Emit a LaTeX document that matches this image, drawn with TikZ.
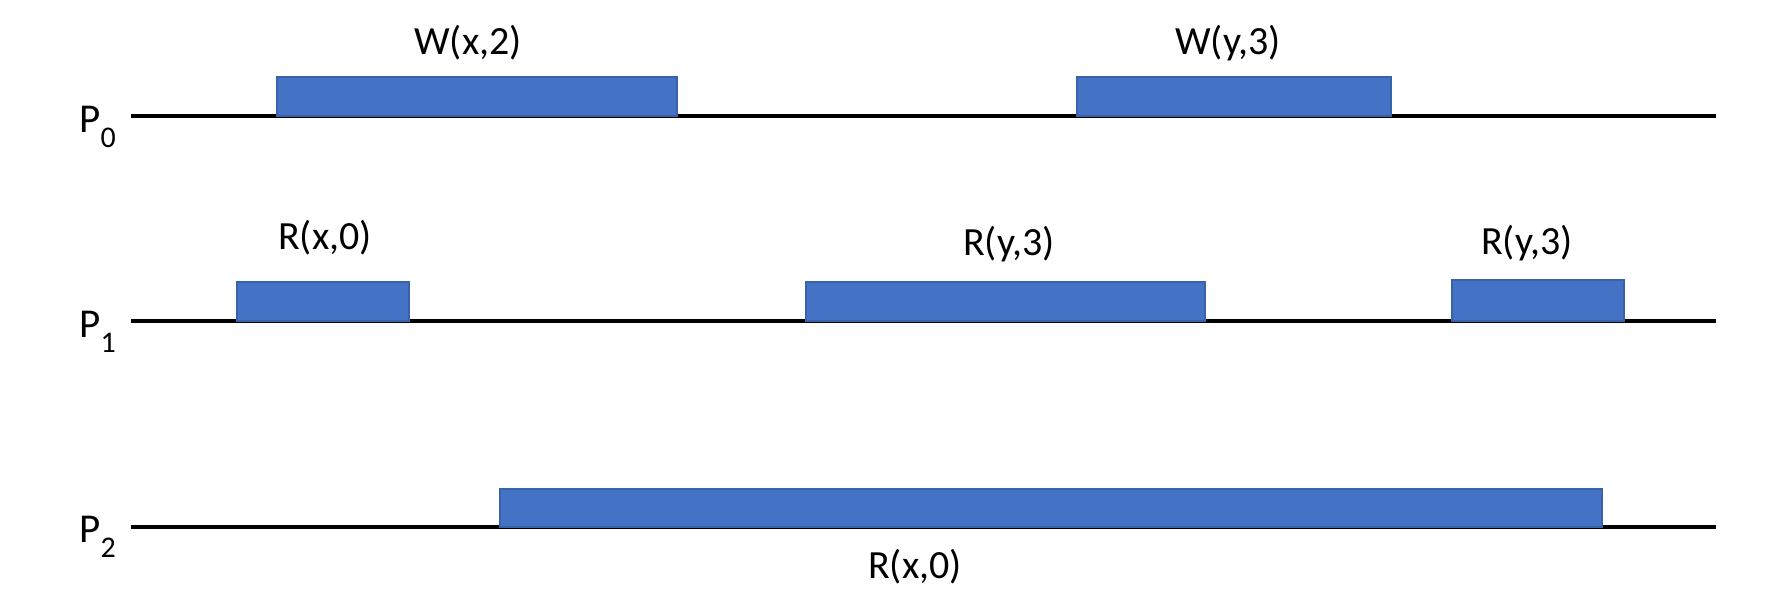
\documentclass[tikz,border=0pt]{standalone}
\usepackage{fontspec}
\setmainfont{Carlito}
\definecolor{opblue}{HTML}{4472C4}
\definecolor{opedge}{HTML}{3A62A8}
\newcommand{\procname}[1]{P\raisebox{-15pt}{\fontsize{30}{30}\selectfont #1}}
\begin{document}
\begin{tikzpicture}[x=1pt,y=-1pt,
  timeline/.style={line width=4.5pt},
  opbox/.style={draw=opedge,line width=1.2pt,fill=opblue},
  oplabel/.style={font=\fontsize{40}{48}\selectfont,inner sep=0pt},
  proclabel/.style={font=\fontsize{41}{48}\selectfont,inner sep=0pt,anchor=base east}]
\useasboundingbox (0,0) rectangle (1778,608);
% timelines
\coordinate (s0) at (131,116); \coordinate (e0) at (1716,116);
\coordinate (s1) at (131,321); \coordinate (e1) at (1716,321);
\coordinate (s2) at (131,527); \coordinate (e2) at (1716,527);
\draw[timeline] (s0) -- (e0);
\draw[timeline] (s1) -- (e1);
\draw[timeline] (s2) -- (e2);
% process labels
\node[proclabel] (p0) at (116,132) {\procname{0}};
\node[proclabel] (p1) at (116,337) {\procname{1}};
\node[proclabel] (p2) at (116,542) {\procname{2}};
% operations
\draw[opbox] (277,77) rectangle (677,116);
\draw[opbox] (1077,77) rectangle (1391,116);
\draw[opbox] (237,282) rectangle (409,321);
\draw[opbox] (806,282) rectangle (1205,321);
\draw[opbox] (1452,280) rectangle (1624,321);
\draw[opbox] (500,489) rectangle (1602,527);
% labels
\node[oplabel] (l1) at (468,43) {W(x,2)};
\node[oplabel] (l2) at (1228,43) {W(y,3)};
\node[oplabel] (l3) at (325,238) {R(x,0)};
\node[oplabel] (l4) at (1009,244) {R(y,3)};
\node[oplabel] (l5) at (1527,243) {R(y,3)};
\node[oplabel] (l6) at (915,567) {R(x,0)};
\end{tikzpicture}
\end{document}
